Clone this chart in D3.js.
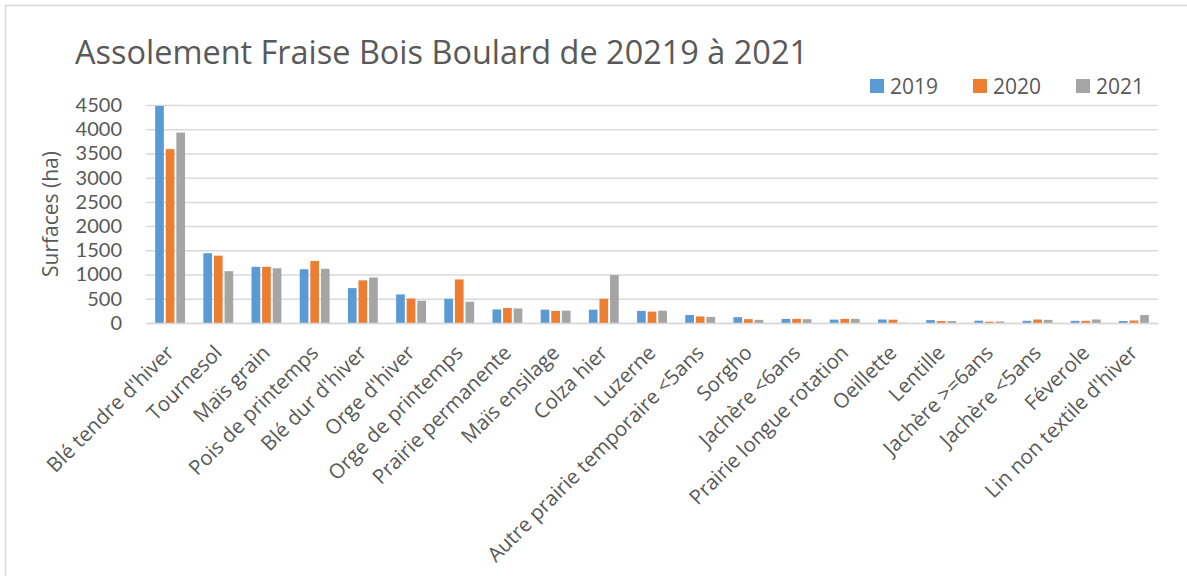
<!DOCTYPE html>
<html>
<head>
<meta charset="utf-8">
<script src="https://cdn.jsdelivr.net/npm/d3@7"></script>
<style>
  body { margin: 0; background: #fff; }
  .chart text { font-family: 'Open Sans', sans-serif; fill: #595959; }
  .chart .yax text { font-family: Lato, sans-serif; }
</style>
</head>
<body>
<div class="chart"></div>
<script>
const categories = ["Blé tendre d'hiver", 'Tournesol', 'Maïs grain', 'Pois de printemps',
  "Blé dur d'hiver", "Orge d'hiver", 'Orge de printemps', 'Prairie permanente', 'Maïs ensilage',
  'Colza hier', 'Luzerne', 'Autre prairie temporaire <5ans', 'Sorgho', 'Jachère <6ans',
  'Prairie longue rotation', 'Oeillette', 'Lentille', 'Jachère >=6ans', 'Jachère <5ans',
  'Féverole', "Lin non textile d'hiver"];
const years = ['2019', '2020', '2021'];
const values2019 = [4480, 1440, 1160, 1110, 720, 590, 500, 280, 275, 275, 250, 165, 120, 85, 70, 72, 60, 48, 45, 45, 40];
const values2020 = [3590, 1390, 1160, 1280, 880, 505, 900, 310, 250, 500, 235, 135, 80, 85, 85, 68, 40, 27, 72, 45, 52];
const values2021 = [3930, 1070, 1130, 1120, 940, 460, 440, 300, 255, 990, 255, 125, 65, 78, 85, 5, 40, 32, 65, 72, 165];
const yTicks = [0, 500, 1000, 1500, 2000, 2500, 3000, 3500, 4000, 4500];
const colors = ['#5B9BD5', '#ED7D31', '#A5A5A5'];

function drawChart() {
  const width = 1187;
  const height = 576;
  const margin = {top: 105, right: 29, bottom: 253, left: 146};
  const grid = '#d9d9d9';

  const series = [values2019, values2020, values2021];
  const data = categories.map((c, i) => ({cat: c, vals: series.map((s, k) => ({year: years[k], v: s[i]}))}));

  const svg = d3.select('.chart')
                .append('svg:svg')
                .attr('width', width)
                .attr('height', height);

  // chart frame
  svg.append('rect')
     .attr('x', 5.5).attr('y', 5.5)
     .attr('width', width + 10).attr('height', height + 10)
     .attr('fill', '#fff')
     .attr('stroke', grid)
     .attr('stroke-width', 1.5);

  const x0 = d3.scaleBand()
               .domain(categories)
               .range([margin.left, width - margin.right])
               .paddingInner(0.38)
               .paddingOuter(0.19);

  const x1 = d3.scaleBand()
               .domain(years)
               .range([0, x0.bandwidth()])
               .paddingInner(0.18);

  const y = d3.scaleLinear()
              .domain([0, 4500])
              .range([height - margin.bottom, margin.top]);

  // gridlines + tick labels
  const yAxis = g => g
    .attr('class', 'yax')
    .attr('transform', `translate(${margin.left},0)`)
    .call(d3.axisLeft(y).tickValues(yTicks).tickFormat(d3.format('d'))
      .tickSize(-(width - margin.left - margin.right)).tickPadding(24))
    .call(g => g.select('.domain').remove())
    .call(g => g.selectAll('.tick line').attr('stroke', grid).attr('stroke-width', 1.5))
    .call(g => g.selectAll('.tick text').attr('font-size', 20).attr('fill', '#595959'));

  svg.append('svg:g').call(yAxis);

  const groups = svg.selectAll('g.cat')
        .data(data)
        .enter().append('svg:g')
        .attr('class', 'cat')
        .attr('transform', d => `translate(${x0(d.cat)},0)`);

  groups.selectAll('rect')
        .data(d => d.vals)
        .enter().append('svg:rect')
        .attr('x', d => x1(d.year))
        .attr('y', d => y(d.v))
        .attr('width', x1.bandwidth())
        .attr('height', d => y(0) - y(d.v))
        .attr('fill', (d, i) => colors[i]);

  // x labels, rotated
  const xAxis = g => g
    .attr('transform', `translate(0,${y(0)})`)
    .call(d3.axisBottom(x0).tickSize(0).tickPadding(0))
    .call(g => g.select('.domain').attr('stroke', grid).attr('stroke-width', 1.5))
    .call(g => g.selectAll('.tick text')
      .attr('font-size', 20.5)
      .attr('fill', '#595959')
      .attr('text-anchor', 'end')
      .attr('dy', null)
      .attr('y', 0)
      .attr('x', 0)
      .attr('transform', 'translate(5,31) rotate(-45)'));

  svg.append('svg:g').call(xAxis);

  svg.append('text')
     .attr('transform', `translate(58,${(y(0) + y(4500)) / 2}) rotate(-90)`)
     .attr('text-anchor', 'middle')
     .attr('font-size', 21)
     .text('Surfaces (ha)');

  svg.append('text')
     .attr('x', 75)
     .attr('y', 64)
     .attr('font-size', 33)
     .attr('textLength', 733)
     .attr('lengthAdjust', 'spacingAndGlyphs')
     .text('Assolement Fraise Bois Boulard de 20219 à 2021');

  const legend = svg.selectAll('g.legend')
        .data(years)
        .enter().append('svg:g')
        .attr('class', 'legend')
        .attr('transform', (d, i) => `translate(${870 + i * 103},79)`);

  legend.append('rect')
        .attr('width', 14).attr('height', 14)
        .attr('fill', (d, i) => colors[i]);

  legend.append('text')
        .attr('x', 20).attr('y', 14.5)
        .attr('font-size', 21)
        .text(d => d);
}

drawChart();
</script>
</body>
</html>
